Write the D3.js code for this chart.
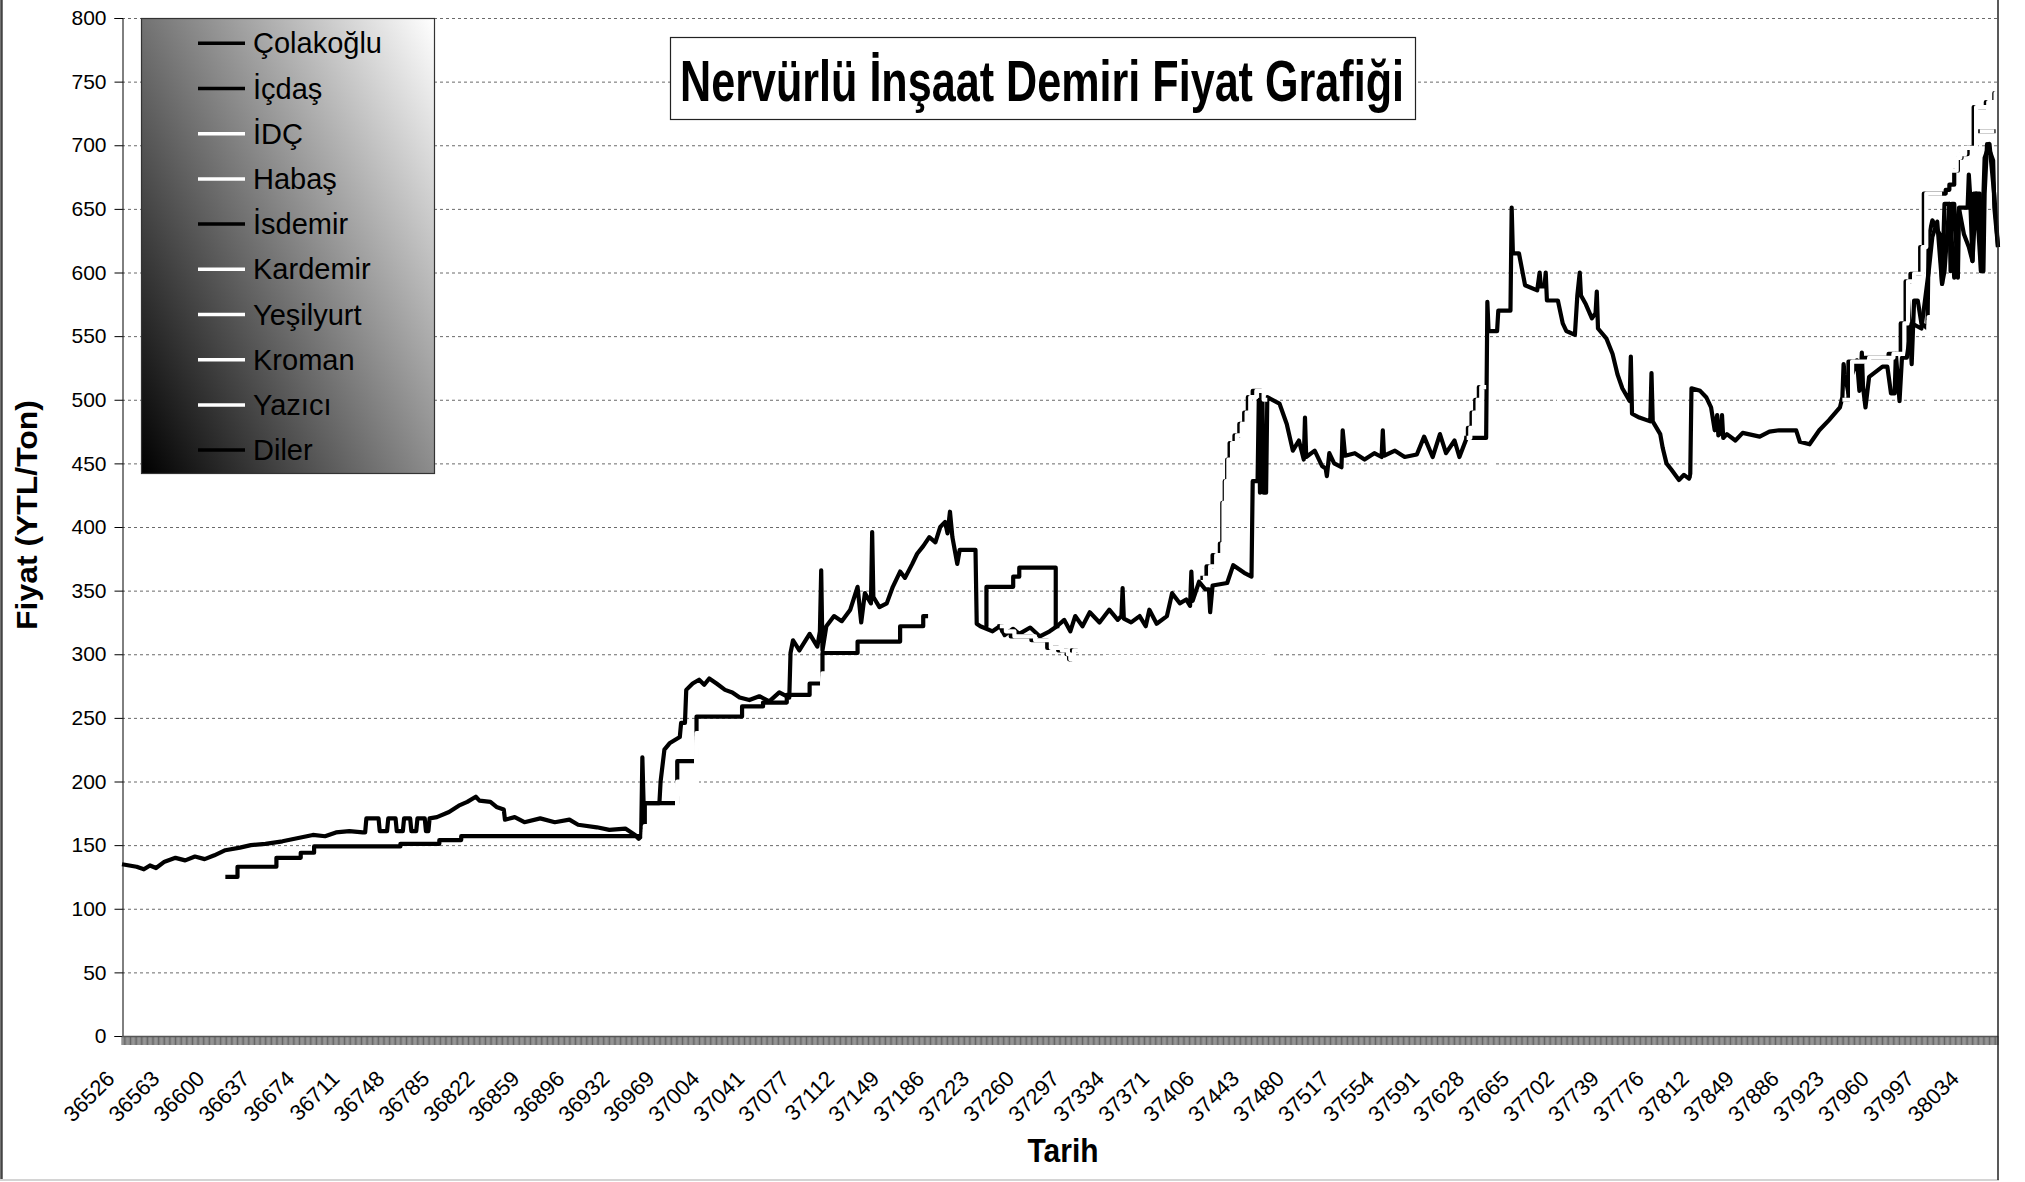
<!DOCTYPE html>
<html>
<head>
<meta charset="utf-8">
<script src="https://cdn.jsdelivr.net/npm/d3@7"></script>
<style>
  body { margin: 0; background: #fff; }
  svg { display: block; }
  text { font-family: "Liberation Sans", Arial, sans-serif; fill: #000; }
</style>
</head>
<body>
<svg id="chart" width="2025" height="1182"></svg>
<script>
// x categories are excel date serials, labels every 37 categories
const tickDates = [36526,36563,36600,36637,36674,36711,36748,36785,36822,36859,36896,36932,36969,37004,
  37041,37077,37112,37149,37186,37223,37260,37297,37334,37371,37406,37443,37480,37517,37554,37591,
  37628,37665,37702,37739,37776,37812,37849,37886,37923,37960,37997,38034]
const lastDate = 38060
const yTicks = [0,50,100,150,200,250,300,350,400,450,500,550,600,650,700,750,800]

const seriesNames = ["Çolakoğlu","İçdaş","İDÇ","Habaş","İsdemir","Kardemir","Yeşilyurt","Kroman","Yazıcı","Diler"]
const seriesColors = ["#000","#000","#fff","#fff","#000","#fff","#fff","#fff","#fff","#000"]

// [date, YTL/ton], null = no quote
const colakoglu = [[36526,135],[36538,133],[36544,131],[36549,134],[36554,132],[36561,137],[36570,140],[36578,138],
  [36586,141],[36594,139],[36602,142],[36611,146],[36623,148],[36632,150],[36644,151],[36658,153],[36668,155],
  [36683,158],[36693,157],[36702,160],[36713,161],[36724,160],[36726,160],[36727,171],[36737,171],[36738,161],
  [36744,161],[36745,171],[36751,171],[36752,161],[36757,161],[36758,171],[36763,171],[36764,161],[36768,161],
  [36769,171],[36775,171],[36776,161],[36778,161],[36779,171],[36785,172],[36795,176],[36803,181],[36810,184],
  [36817,188],[36820,185],[36829,184],[36834,180],[36840,178],[36841,170],[36849,172],[36857,168],[36870,171],
  [36882,168],[36894,170],[36901,166],[36916,164],[36926,162],[36939,163],[36947,158],[36950,155],[36952,157],
  [36953,219],[36954,183],[36967,183],[36968,200],[36971,225],[36975,230],[36983,235],[36984,246],[36987,246],
  [36988,272],[36993,277],[36998,280],[37002,276],[37006,281],[37012,277],[37019,272],[37025,270],[37031,266],
  [37039,264],[37047,267],[37055,263],[37063,270],[37071,266],[37072,301],[37074,311],[37079,303],[37087,316],
  [37093,306],[37095,318],[37096,366],[37097,303],[37100,322],[37106,330],[37112,326],[37119,335],[37125,353],
  [37128,325],[37131,348],[37136,340],[37137,396],[37138,345],[37143,337],[37149,340],[37154,353],[37160,365],
  [37164,360],[37170,371],[37174,379],[37179,385],[37184,392],[37189,388],[37193,400],[37197,404],[37199,395],
  [37201,412],[37203,392],[37207,371],[37209,382],[37222,382],[37223,324],[37226,322],[37231,320],[37236,318],
  [37242,322],[37246,315],[37253,320],[37258,316],[37267,321],[37275,314],[37283,318],[37289,322],[37295,327],
  [37300,318],[37304,330],[37310,322],[37316,333],[37324,325],[37332,335],[37339,327],[37342,330],[37343,352],
  [37344,328],[37350,325],[37357,330],[37362,322],[37365,335],[37371,324],[37379,330],[37383,348],[37389,340],
  [37394,343],[37397,338],[37398,365],[37399,342],[37404,357],[37409,351],[37412,351],[37413,333],[37415,354],
  [37427,356],[37432,370],[37441,364],[37447,361],[37448,436],[37452,436],[37453,500],[37454,427],[37456,500],
  [37457,427],[37459,427],[37460,502],[37470,497],[37476,481],[37481,460],[37486,468],[37490,453],[37491,486],
  [37492,455],[37499,460],[37505,448],[37508,446],[37509,440],[37511,458],[37515,450],[37521,447],[37522,476],
  [37524,456],[37532,458],[37540,453],[37548,458],[37554,455],[37555,476],[37556,456],[37565,460],[37573,455],
  [37583,457],[37589,471],[37596,455],[37602,473],[37607,458],[37614,468],[37618,455],[37624,470],[37640,470],
  [37641,577],[37642,554],[37649,554],[37650,570],[37660,570],[37661,651],[37662,615],[37667,615],[37672,590],
  [37682,586],[37684,600],[37685,589],[37688,589],[37689,600],[37690,578],[37699,578],[37703,560],[37706,554],
  [37713,551],[37715,582],[37717,600],[37718,582],[37722,575],[37727,564],[37730,568],[37731,585],[37732,556],
  [37739,548],[37744,536],[37748,520],[37752,509],[37758,499],[37759,534],[37760,489],[37766,486],[37775,483],
  [37776,521],[37777,483],[37783,473],[37785,462],[37788,450],[37792,445],[37798,437],[37802,441],[37806,438],
  [37807,440],[37808,509],[37815,507],[37820,502],[37824,494],[37827,476],[37829,488],[37830,472],[37832,474],
  [37833,488],[37834,470],[37837,473],[37844,468],[37850,474],[37864,471],[37872,475],[37880,476],[37894,476],
  [37897,467],[37905,465],[37913,476],[37921,484],[37930,494],[37932,502],[37933,528],[37934,520],[37937,505],
  [37940,520],[37944,531],[37946,507],[37947,515],[37948,537],[37949,510],[37951,494],[37954,518],[37965,526],
  [37969,526],[37972,505],[37975,505],[37976,536],[37979,499],[37981,533],[37985,533],[37986,578],[37989,528],
  [37991,578],[37994,578],[37997,560],[38002,556],[38003,628],[38006,641],[38012,630],[38014,591],[38016,654],
  [38020,654],[38021,601],[38022,654],[38024,654],[38027,596],[38028,651],[38035,651],[38036,677],[38037,662],
  [38039,609],[38040,662],[38045,662],[38046,601],[38048,601],[38049,662],[38051,701],[38053,696],[38056,688],
  [38057,651],[38060,620]]

const icdas = [[36611,125],[36621,133],[36653,140],[36673,144],[36684,149],[36755,151],[36787,154],[36805,157],
  [36955,183],[36981,216],[36996,251],[37033,259],[37050,262],[37069,268],[37087,277],[37097,301],[37125,310],
  [37160,322],[37179,330],[37183,330],[37184,null],
  [37240,322],[37244,318],[37251,314],[37268,311],[37281,305],[37290,303],[37297,300],[37299,296],[37301,303],
  [37306,303],[37307,null],
  [37405,360],[37410,369],[37415,378],[37421,387],[37423,419],[37425,436],[37427,453],[37429,466],[37433,472],
  [37437,481],[37441,490],[37444,502],[37448,507],[37455,500],[37460,500],[37461,null],
  [37622,470],[37625,478],[37628,490],[37631,500],[37634,510],[37640,510],[37641,null],
  [37930,500],[37937,530],[37950,533],[37970,536],[37980,560],[37984,593],[37988,599],[37996,620],[37999,662],
  [38017,665],[38020,669],[38024,680],[38027,690],[38030,693],[38035,698],[38040,730],[38050,734],[38057,741],
  [38060,741]]

const idc = [[36526,118],[36611,112],[36653,128],[36805,142],[36955,165],[36981,200],[36996,238],[37097,285],
  [37330,298],[37462,415],[37645,525],[37700,465],[37760,418],[37810,440],[37930,470],[38003,565],[38060,600]]

const habas = [[36526,112],[36611,110],[36653,125],[36805,138],[36955,160],[36981,195],[36996,232],[37097,280],
  [37330,292],[37462,410],[37645,518],[37700,460],[37760,412],[37810,436],[37930,465],[38003,558],[38060,590]]

const isdemir = [[37230,322],[37231,353],[37253,361],[37258,368],[37288,322],[37291,322],[37292,null],
  [38043,711],[38058,711]]

const kardemir = [[37242,322],[37247,318],[37254,314],[37271,311],[37284,305],[37293,303],[37298,300],[37300,296],
  [37303,303],[37307,303],[37308,null],
  [37407,360],[37413,369],[37418,378],[37423,387],[37424,419],[37426,436],[37428,453],[37431,466],[37435,472],
  [37439,481],[37443,490],[37446,502],[37451,507],[37457,500],[37460,500],[37461,null],
  [37624,470],[37627,478],[37630,490],[37633,500],[37636,510],[37640,510],[37641,null],
  [37932,500],[37940,530],[37954,533],[37974,536],[37983,560],[37986,593],[37991,599],[37998,620],[38001,662],
  [38014,662],[38015,null],
  [38022,680],[38026,690],[38029,693],[38033,698],[38042,730],[38052,734],[38058,741],[38060,741]]

const yesilyurt = [[36526,115],[36611,108],[36653,122],[36805,140],[36955,162],[36981,198],[36996,235],[37097,282],
  [37330,295],[37462,418],[37645,522],[37700,462],[37760,415],[37810,438],[37930,468],[38003,562],[38060,595]]

const kroman = [[36526,110],[36611,105],[36653,120],[36805,136],[36955,158],[36981,192],[36996,230],[37097,278],
  [37330,290],[37462,405],[37645,515],[37700,458],[37760,410],[37810,433],[37930,462],[38003,555],[38060,585]]

const yazici = [[36526,108],[36611,102],[36653,118],[36805,134],[36955,155],[36981,190],[36996,228],[37097,275],
  [37330,288],[37462,402],[37645,512],[37700,455],[37760,408],[37810,430],[37930,460],[38003,552],[38044,580],
  [38045,null],[38045,711],[38057,711]]

const diler = [[37985,533],[37989,560],[37997,556],[38003,601],[38006,628],[38010,640],[38014,591],[38016,601],
  [38020,654],[38024,596],[38028,650],[38032,630],[38036,620],[38039,609],[38042,662],[38046,601],[38049,690],
  [38053,701],[38057,660],[38060,620]]

const seriesData = [colakoglu, icdas, idc, habas, isdemir, kardemir, yesilyurt, kroman, yazici, diler]
// noisy daily ones are drawn straight, list prices as steps
const steppy = [false, true, true, true, true, true, true, true, true, false]

const W = 2025, H = 1182
const m = {left: 122, right: 1998, top: 18, bottom: 1036}
const labelStep = (m.right - m.left) / (tickDates.length - 1 + (lastDate - tickDates[tickDates.length-1]) / 37)

const svg = d3.select("#chart")

const x = d3.scaleLinear()
  .domain([...tickDates, lastDate])
  .range([...tickDates.map((d,i) => m.left + i*labelStep), m.right])
const y = d3.scaleLinear().domain([0, 800]).range([m.bottom, m.top])

// chart border
svg.append("line").attr("x1",1.5).attr("x2",1.5).attr("y1",0).attr("y2",1180).attr("stroke","#444").attr("stroke-width",2.5)
svg.append("line").attr("x1",0).attr("x2",1999).attr("y1",1180).attr("y2",1180).attr("stroke","#d4d4d4").attr("stroke-width",2)

// gridlines
svg.append("g").selectAll("line").data(yTicks.filter(d => d > 0)).enter().append("line")
  .attr("x1", m.left).attr("x2", m.right)
  .attr("y1", d => y(d) + 0.5).attr("y2", d => y(d) + 0.5)
  .attr("stroke", "#6a6a6a").attr("stroke-dasharray", "3,3")

// series
const line = d3.line()
  .defined(d => d[1] != null)
  .x(d => x(d[0])).y(d => y(d[1]))

svg.append("g").selectAll("path").data(seriesData).enter().append("path")
  .attr("d", (d,i) => line.curve(steppy[i] ? d3.curveStepAfter : d3.curveLinear)(d))
  .attr("fill", "none")
  .attr("stroke", (d,i) => seriesColors[i])
  .attr("stroke-width", 4.2)
  .attr("stroke-linejoin", "round")

// y axis
const yAxis = d3.axisLeft(y).tickValues(yTicks).tickSize(8).tickPadding(8)
const ya = svg.append("g").attr("transform", `translate(${m.left + 0.5},0)`).call(yAxis)
ya.select(".domain").attr("stroke", "#000")
ya.selectAll(".tick line").attr("stroke", "#000")
ya.selectAll(".tick text").attr("font-size", 21).attr("font-family", "Liberation Sans, Arial, sans-serif")

// x axis with one tick per category (gives the hatched band)
const catTicks = d3.range(m.left, m.right + 0.01, labelStep / 37)
svg.append("g").selectAll("line").data(catTicks).enter().append("line")
  .attr("x1", d => d).attr("x2", d => d)
  .attr("y1", m.bottom).attr("y2", m.bottom + 9)
  .attr("stroke", "#222").attr("stroke-width", 0.7)
svg.append("line").attr("x1", m.left).attr("x2", m.right).attr("y1", m.bottom + 0.5).attr("y2", m.bottom + 0.5)
  .attr("stroke", "#555").attr("stroke-width", 1.5)
svg.append("line").attr("x1", m.right).attr("x2", m.right).attr("y1", 0).attr("y2", 1180)
  .attr("stroke", "#222").attr("stroke-width", 1.5)

svg.append("g").selectAll("text").data(tickDates).enter().append("text")
  .attr("transform", d => `translate(${x(d) - 6},1080) rotate(-45)`)
  .attr("text-anchor", "end")
  .attr("font-size", 22)
  .text(d => d)

// axis titles
svg.append("text").attr("x", 1063).attr("y", 1162).attr("text-anchor", "middle")
  .attr("font-size", 33).attr("font-weight", "bold")
  .attr("textLength", 71).attr("lengthAdjust", "spacingAndGlyphs").text("Tarih")
svg.append("text").attr("transform", "translate(37,515) rotate(-90)").attr("text-anchor", "middle")
  .attr("font-size", 29).attr("font-weight", "bold")
  .attr("textLength", 230).attr("lengthAdjust", "spacingAndGlyphs").text("Fiyat (YTL/Ton)")

// title box
svg.append("rect").attr("x", 670.5).attr("y", 37.5).attr("width", 745).attr("height", 82)
  .attr("fill", "#fff").attr("stroke", "#222").attr("stroke-width", 1.2)
svg.append("text").attr("x", 1042).attr("y", 101).attr("text-anchor", "middle")
  .attr("font-size", 57).attr("font-weight", "bold")
  .attr("textLength", 724).attr("lengthAdjust", "spacingAndGlyphs")
  .text("Nervürlü İnşaat Demiri Fiyat Grafiği")

// legend
const grad = svg.append("defs").append("linearGradient").attr("id", "lg")
  .attr("x1", 0).attr("y1", 1).attr("x2", 1.09).attr("y2", 0.11)
grad.append("stop").attr("offset", 0).attr("stop-color", "#000")
grad.append("stop").attr("offset", 1).attr("stop-color", "#fff")

const lg = svg.append("g").attr("transform", "translate(141,18)")
lg.append("rect").attr("x", 0.5).attr("y", 0.5).attr("width", 293).attr("height", 455)
  .attr("fill", "url(#lg)").attr("stroke", "#333").attr("stroke-width", 1.2)
const item = lg.selectAll("g.item").data(seriesNames).enter().append("g").attr("class", "item")
  .attr("transform", (d,i) => `translate(0,${25.3 + i*45.2})`)
item.append("line").attr("x1", 57).attr("x2", 104).attr("y1", 0).attr("y2", 0)
  .attr("stroke", (d,i) => seriesColors[i]).attr("stroke-width", 3.5)
item.append("text").attr("x", 112).attr("y", 10).attr("font-size", 29).text(d => d)
</script>
</body>
</html>
